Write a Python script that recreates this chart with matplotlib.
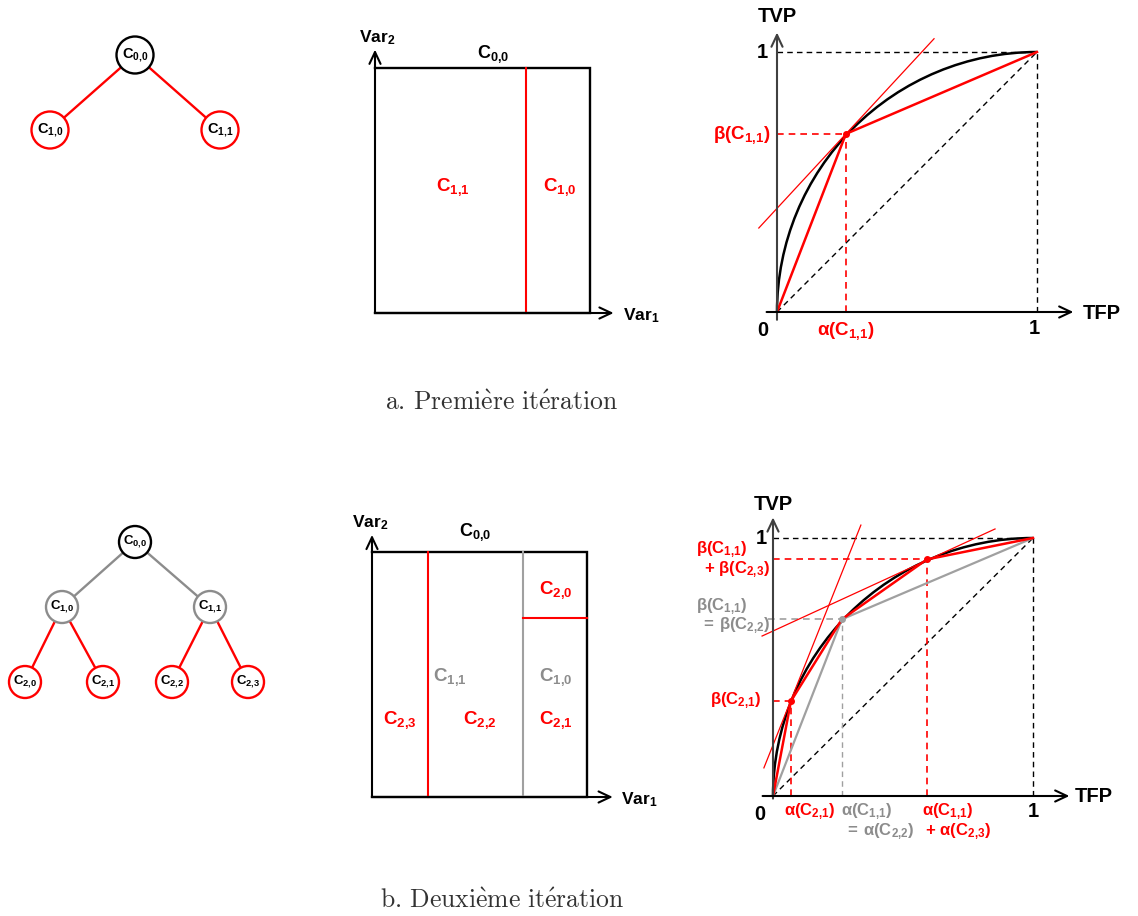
import matplotlib
matplotlib.use('Agg')
import matplotlib.pyplot as plt
from matplotlib.patches import Ellipse, Arc

plt.rcParams['font.family'] = ['Liberation Sans', 'DejaVu Sans']
plt.rcParams['font.weight'] = 'bold'
plt.rcParams['mathtext.fontset'] = 'custom'
plt.rcParams['mathtext.rm'] = 'Liberation Sans:bold'
plt.rcParams['mathtext.bf'] = 'Liberation Sans:bold'
plt.rcParams['mathtext.it'] = 'Liberation Sans:bold'

# ---------------- data ----------------
tree1_nodes = ['0,0', '1,0', '1,1']
tree1_parent = [None, 0, 0]
tree2_nodes = ['0,0', '1,0', '1,1', '2,0', '2,1', '2,2', '2,3']
tree2_parent = [None, 0, 0, 1, 1, 2, 2]

split1_var1 = 0.70            # iteration 1: C1,1 | C1,0
split2_var1 = [0.26, 0.70]    # iteration 2: C2,3 | C2,2 | (C2,1 / C2,0)
split2_var2 = 0.73            # iteration 2: C2,1 / C2,0

roc1_alpha = [0.265]
roc1_beta = [0.685]
roc2_alpha = [0.069, 0.265, 0.592]
roc2_beta = [0.368, 0.685, 0.917]

tan1_x = [-0.07, 0.604]
tan1_y = [0.323, 1.051]
tan2a_x = [-0.035, 0.338]
tan2a_y = [0.109, 1.05]
tan2b_x = [-0.042, 0.854]
tan2b_y = [0.62, 1.035]

RED = '#ff0000'
GRAY = '#8c8c8c'
LGRAY = '#a0a0a0'
BLACK = '#000000'

W, H = 1138, 916
fig = plt.figure(figsize=(W / 100, H / 100), dpi=100)
fig.patch.set_facecolor('white')


def panel(ox, oy, ux, uy, xlim, ylim):
    left = ox + xlim[0] * ux
    right = ox + xlim[1] * ux
    bottom = oy - ylim[0] * uy
    top = oy - ylim[1] * uy
    ax = fig.add_axes([left / W, 1 - bottom / H, (right - left) / W, (bottom - top) / H])
    ax.set_xlim(*xlim)
    ax.set_ylim(*ylim)
    ax.axis('off')
    return ax


def sub(name):
    return name.replace(',', '{,}')


def lab(prefix, name, suffix=''):
    return r'$\mathregular{' + prefix + 'C_{' + sub(name) + '}' + suffix + '}$'


def arrow(ax, start, end, lw=1.5, color=BLACK):
    ax.annotate('', xy=end, xytext=start,
                arrowprops=dict(arrowstyle='->,head_length=0.85,head_width=0.4',
                                lw=lw, color=color, mutation_scale=10,
                                shrinkA=0, shrinkB=0), annotation_clip=False)


DASH = (0, (4, 3))


# ---------------- trees ----------------
def draw_tree(ax, nodes, parents, pos, edge_colors, node_colors, w, h, fs):
    for i, p in enumerate(parents):
        if p is None:
            continue
        ax.plot([pos[p][0], pos[i][0]], [pos[p][1], pos[i][1]],
                color=edge_colors[i], lw=1.7, zorder=1, solid_capstyle='butt')
    for i, name in enumerate(nodes):
        ax.add_patch(Ellipse(pos[i], w, h, facecolor='white',
                             edgecolor=node_colors[i], lw=1.7, zorder=2))
        ax.text(pos[i][0] + 0.5, pos[i][1], lab('', name), ha='center',
                va='center', fontsize=fs, color=BLACK, zorder=3)


ax_t1 = panel(0, 0, 1, -1, (0, 280), (170, 20))
pos1 = [(135, 55), (50, 130), (220, 130)]
draw_tree(ax_t1, tree1_nodes, tree1_parent, pos1,
          [None, RED, RED], [BLACK, RED, RED], 37, 37, 10.5)

ax_t2 = panel(0, 0, 1, -1, (0, 280), (720, 510))
pos2 = [(135, 542), (62, 607), (210, 607), (25, 682), (103, 682), (172, 682), (248, 682)]
draw_tree(ax_t2, tree2_nodes, tree2_parent, pos2,
          [None, GRAY, GRAY, RED, RED, RED, RED],
          [BLACK, GRAY, GRAY, RED, RED, RED, RED], 32, 32, 9.5)

# ---------------- partition boxes ----------------
FSB = 13.5
# iteration 1
ax_b1 = panel(375, 313, 215, 245, (-0.2, 1.35), (-0.1, 1.2))
ax_b1.plot([0, 1, 1, 0], [1, 1, 0, 0], color=BLACK, lw=1.7, solid_joinstyle='miter')
ax_b1.plot([split1_var1, split1_var1], [0, 1], color=RED, lw=1.5)
arrow(ax_b1, (0, 0), (0, 1.075))
arrow(ax_b1, (0, 0), (1.11, 0))
ax_b1.text(0.01, 1.125, r'$\mathregular{Var_{2}}$', ha='center', va='center', fontsize=12.5)
ax_b1.text(1.155, -0.01, r'$\mathregular{Var_{1}}$', ha='left', va='center', fontsize=12.5)
ax_b1.text(0.55, 1.055, lab('', '0,0'), ha='center', va='center', fontsize=13)
ax_b1.text(split1_var1 / 2 + 0.01, 0.515, lab('', '1,1'), ha='center', va='center',
           fontsize=FSB, color=RED)
ax_b1.text((split1_var1 + 1) / 2 + 0.01, 0.515, lab('', '1,0'), ha='center', va='center',
           fontsize=FSB, color=RED)

# iteration 2
ax_b2 = panel(372, 797, 215, 245, (-0.2, 1.35), (-0.1, 1.2))
ax_b2.plot([0, 1, 1, 0], [1, 1, 0, 0], color=BLACK, lw=1.7, solid_joinstyle='miter')
ax_b2.plot([split2_var1[0]] * 2, [0, 1], color=RED, lw=1.5)
ax_b2.plot([split2_var1[1]] * 2, [0, 1], color=LGRAY, lw=1.5)
ax_b2.plot([split2_var1[1], 1], [split2_var2] * 2, color=RED, lw=1.5)
arrow(ax_b2, (0, 0), (0, 1.07))
arrow(ax_b2, (0, 0), (1.12, 0))
ax_b2.text(-0.01, 1.12, r'$\mathregular{Var_{2}}$', ha='center', va='center', fontsize=12.5)
ax_b2.text(1.16, -0.01, r'$\mathregular{Var_{1}}$', ha='left', va='center', fontsize=12.5)
ax_b2.text(0.48, 1.08, lab('', '0,0'), ha='center', va='center', fontsize=13)
cx_r = (split2_var1[1] + 1) / 2 + 0.005
ax_b2.text(cx_r, (split2_var2 + 1) / 2 - 0.02, lab('', '2,0'), ha='center', va='center',
           fontsize=FSB, color=RED)
ax_b2.text(0.363, 0.49, lab('', '1,1'), ha='center', va='center', fontsize=FSB, color=GRAY)
ax_b2.text(cx_r, 0.49, lab('', '1,0'), ha='center', va='center', fontsize=FSB, color=GRAY)
ax_b2.text(split2_var1[0] / 2, 0.315, lab('', '2,3'), ha='center', va='center',
           fontsize=FSB, color=RED)
ax_b2.text((split2_var1[0] + split2_var1[1]) / 2 + 0.02, 0.315, lab('', '2,2'),
           ha='center', va='center', fontsize=FSB, color=RED)
ax_b2.text(cx_r, 0.315, lab('', '2,1'), ha='center', va='center', fontsize=FSB, color=RED)

# ---------------- ROC 1 ----------------
FSA = 14.5
r1 = panel(777, 312, 260, 260, (-0.35, 1.38), (-0.15, 1.2))
r1.plot([0, 1], [0, 1], color=BLACK, lw=1, linestyle=DASH)
r1.plot([0, 1], [1, 1], color=BLACK, lw=1, linestyle=DASH)
r1.plot([1, 1], [0, 1], color=BLACK, lw=1, linestyle=DASH)
r1.add_patch(Arc((1, 0), 2, 2, theta1=90, theta2=180, color=BLACK, lw=1.8))
r1.plot([0, roc1_alpha[0]], [roc1_beta[0]] * 2, color=RED, lw=1.2, linestyle=DASH)
r1.plot([roc1_alpha[0]] * 2, [0, roc1_beta[0]], color=RED, lw=1.2, linestyle=DASH)
r1.plot(tan1_x, tan1_y, color=RED, lw=0.9)
r1.plot([0] + roc1_alpha + [1], [0] + roc1_beta + [1], color=RED, lw=1.8)
r1.plot(roc1_alpha, roc1_beta, 'o', color=RED, ms=4)
arrow(r1, (0, -0.03), (0, 1.075), lw=1.5, color='#404040')
arrow(r1, (-0.04, 0), (1.14, 0))
r1.text(0.0, 1.135, 'TVP', ha='center', va='center', fontsize=FSA)
r1.text(1.175, -0.005, 'TFP', ha='left', va='center', fontsize=FSA)
r1.text(-0.055, -0.07, '0', ha='center', va='center', fontsize=FSA)
r1.text(0.99, -0.065, '1', ha='center', va='center', fontsize=FSA)
r1.text(-0.055, 1.0, '1', ha='center', va='center', fontsize=FSA)
r1.text(roc1_alpha[0], -0.075, lab('α(', '1,1', ')'), ha='center', va='center',
        fontsize=13.5, color=RED)
r1.text(-0.025, roc1_beta[0] - 0.005, lab('β(', '1,1', ')'), ha='right', va='center',
        fontsize=13.5, color=RED)

# ---------------- ROC 2 ----------------
r2 = panel(773, 796, 260, 258, (-0.3, 1.39), (-0.18, 1.2))
r2.plot([0, 1], [0, 1], color=BLACK, lw=1, linestyle=DASH)
r2.plot([0, 1], [1, 1], color=BLACK, lw=1, linestyle=DASH)
r2.plot([1, 1], [0, 1], color=BLACK, lw=1, linestyle=DASH)
# guide lines
r2.plot([0, roc2_alpha[0]], [roc2_beta[0]] * 2, color=RED, lw=1.2, linestyle=DASH)
r2.plot([roc2_alpha[0]] * 2, [0, roc2_beta[0]], color=RED, lw=1.2, linestyle=DASH)
r2.plot([-0.02, roc2_alpha[1]], [roc2_beta[1]] * 2, color=LGRAY, lw=1.2, linestyle=DASH)
r2.plot([roc2_alpha[1]] * 2, [0, roc2_beta[1]], color=LGRAY, lw=1.0, linestyle=DASH)
r2.plot([0, roc2_alpha[2]], [roc2_beta[2]] * 2, color=RED, lw=1.2, linestyle=DASH)
r2.plot([roc2_alpha[2]] * 2, [0, roc2_beta[2]], color=RED, lw=1.2, linestyle=DASH)
# first-iteration ROC (gray)
r2.plot([0, roc2_alpha[1], 1], [0, roc2_beta[1], 1], color=LGRAY, lw=1.6)
r2.add_patch(Arc((1, 0), 2, 2, theta1=90, theta2=180, color=BLACK, lw=1.8))
r2.plot(tan2a_x, tan2a_y, color=RED, lw=0.9)
r2.plot(tan2b_x, tan2b_y, color=RED, lw=0.9)
r2.plot([0] + roc2_alpha + [1], [0] + roc2_beta + [1], color=RED, lw=1.8)
r2.plot([roc2_alpha[0], roc2_alpha[2]], [roc2_beta[0], roc2_beta[2]], 'o', color=RED, ms=4)
r2.plot([roc2_alpha[1]], [roc2_beta[1]], 'o', color=LGRAY, ms=4)
arrow(r2, (0, -0.01), (0, 1.08), lw=1.5, color='#404040')
arrow(r2, (-0.04, 0), (1.14, 0))
r2.text(0.0, 1.13, 'TVP', ha='center', va='center', fontsize=FSA)
r2.text(1.16, -0.002, 'TFP', ha='left', va='center', fontsize=FSA)
r2.text(-0.05, -0.072, '0', ha='center', va='center', fontsize=FSA)
r2.text(1.0, -0.062, '1', ha='center', va='center', fontsize=FSA)
r2.text(-0.045, 1.0, '1', ha='center', va='center', fontsize=FSA)
fs2 = 12
r2.text(0.142, -0.062, lab('α(', '2,1', ')'), ha='center', va='center', fontsize=fs2, color=RED)
r2.text(0.362, -0.062, lab('α(', '1,1', ')'), ha='center', va='center', fontsize=fs2, color=GRAY)
r2.text(0.41, -0.14, lab('=\\,α(', '2,2', ')'), ha='center', va='center', fontsize=fs2, color=GRAY)
r2.text(0.67, -0.062, lab('α(', '1,1', ')'), ha='center', va='center', fontsize=fs2, color=RED)
r2.text(0.71, -0.14, lab('+\\ α(', '2,3', ')'), ha='center', va='center', fontsize=fs2, color=RED)
r2.text(-0.1, 0.955, lab('β(', '1,1', ')'), ha='right', va='center', fontsize=fs2, color=RED)
r2.text(-0.012, 0.876, lab('+\\ β(', '2,3', ')'), ha='right', va='center', fontsize=fs2, color=RED)
r2.text(-0.1, 0.733, lab('β(', '1,1', ')'), ha='right', va='center', fontsize=fs2, color=GRAY)
r2.text(-0.012, 0.659, lab('=\\,β(', '2,2', ')'), ha='right', va='center', fontsize=fs2, color=GRAY)
r2.text(-0.046, roc2_beta[0], lab('β(', '2,1', ')'), ha='right', va='center', fontsize=fs2, color=RED)

# ---------------- captions ----------------
fig.text(502 / W, 1 - 403 / H, r'$\mathrm{a.\,Premi\grave{e}re\ it\acute{e}ration}$',
         ha='center', va='center', fontsize=18.5, math_fontfamily='cm', color='#333333')
fig.text(502 / W, 1 - 901 / H, r'$\mathrm{b.\,Deuxi\grave{e}me\ it\acute{e}ration}$',
         ha='center', va='center', fontsize=18.5, math_fontfamily='cm', color='#333333')

fig.savefig('out.png', dpi=100, facecolor='white')
